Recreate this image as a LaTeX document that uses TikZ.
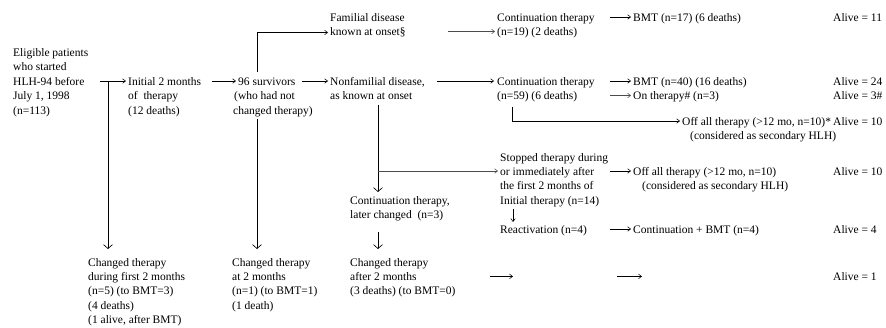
\documentclass[tikz,border=0pt]{standalone}
\usepackage{fontspec}
\setmainfont{Liberation Serif}
\usetikzlibrary{arrows.meta,calc}
\begin{document}
\begin{tikzpicture}[x=1pt,y=-1pt,
  t/.style={anchor=base west, inner sep=0pt, font=\fontsize{11.5}{14}\selectfont},
  arr/.style={-{Straight Barb[length=3pt,width=4.5pt]}, line width=0.55pt},
  garr/.style={arr, draw=black!70},
  varr/.style={-{Straight Barb[length=4pt,width=9pt]}, line width=0.65pt},
  ln/.style={line width=0.65pt}]
\useasboundingbox (0,0) rectangle (886,327);
% column 1
\node[t] (e1) at (13,56) {Eligible patients};
\node[t] (e2) at (13,70.5) {who started};
\node[t] (e3) at (13,85) {HLH-94 before};
\node[t] (e4) at (13,99.5) {July 1, 1998};
\node[t] (e5) at (13,114) {(n=113)};
% column 2
\node[t] (i1) at (128,85) {Initial 2 months};
\node[t] (i2) at (128,99.5) {of\ \ therapy};
\node[t] (i3) at (128,114) {(12 deaths)};
% column 3
\node[t] (s1) at (238,85) {96 survivors};
\node[t] (s2) at (234,99.5) {(who had not};
\node[t] (s3) at (233,114) {changed therapy)};
% column 4
\node[t] (f1) at (330,21) {Familial disease};
\node[t] (f2) at (330,35.5) {known at onset\S};
\node[t] (n1) at (330,85) {Nonfamilial disease,};
\node[t] (n2) at (330,99.5) {as known at onset};
\node[t] (ct1) at (350,204) {Continuation therapy,};
\node[t] (ct2) at (350,218.5) {later changed\ \ (n=3)};
% column 5
\node[t] (c1) at (497,21) {Continuation therapy};
\node[t] (c2) at (497,35.5) {(n=19) (2 deaths)};
\node[t] (d1) at (497,85) {Continuation therapy};
\node[t] (d2) at (497,99.5) {(n=59) (6 deaths)};
\node[t] (st1) at (500,161) {Stopped therapy during};
\node[t] (st2) at (500,175) {or immediately after};
\node[t] (st3) at (500,189.5) {the first 2 months of};
\node[t] (st4) at (500,204) {Initial therapy (n=14)};
\node[t] (re) at (500,233) {Reactivation (n=4)};
% column 6
\node[t] (b1) at (633,21) {BMT (n=17) (6 deaths)};
\node[t] (b2) at (633,85) {BMT (n=40) (16 deaths)};
\node[t] (b3) at (633,99.5) {On therapy\# (n=3)};
\node[t] (o1) at (682,125) {Off all therapy (>12 mo, n=10)*};
\node[t] (o1b) at (690,139.5) {(considered as secondary HLH)};
\node[t] (o2) at (633,175) {Off all therapy (>12 mo, n=10)};
\node[t] (o2b) at (642,189.5) {(considered as secondary HLH)};
\node[t] (cb) at (633,233) {Continuation + BMT (n=4)};
% alive column
\node[t] (a1) at (833,21) {Alive = 11};
\node[t] (a2) at (833,85) {Alive = 24};
\node[t] (a3) at (833,99.5) {Alive = 3\#};
\node[t] (a4) at (833,125) {Alive = 10};
\node[t] (a5) at (833,175) {Alive = 10};
\node[t] (a6) at (833,233) {Alive = 4};
\node[t] (a7) at (833,280.4) {Alive = 1};
% bottom row
\node[t] (g1) at (88,266) {Changed therapy};
\node[t] (g2) at (88,280.4) {during first 2 months};
\node[t] (g3) at (88,294.8) {(n=5) (to BMT=3)};
\node[t] (g4) at (88,309.2) {(4 deaths)};
\node[t] (g5) at (88,323.6) {(1 alive, after BMT)};
\node[t] (h1) at (232,266) {Changed therapy};
\node[t] (h2) at (232,280.4) {at 2 months};
\node[t] (h3) at (232,294.8) {(n=1) (to BMT=1)};
\node[t] (h4) at (232,309.2) {(1 death)};
\node[t] (k1) at (350,266) {Changed therapy};
\node[t] (k2) at (350,280.4) {after 2 months};
\node[t] (k3) at (350,294.8) {(3 deaths) (to BMT=0)};
% connectors
\draw[arr] ($(e3.base west)+(87,-4)$) -- ($(i1.base west)+(-2,-4)$);
\draw[varr] ($(e3.base west)+(95,-4)$) -- ($(g1.base west)+(20,-17)$);
\draw[arr] ($(i1.base west)+(84,-4)$) -- ($(s1.base west)+(-2,-4)$);
\draw[arr] ($(s1.base west)+(19,-13)$) |- ($(f2.base west)+(-2,-3)$);
\draw[varr] ($(s3.base west)+(24,5)$) -- ($(h1.base west)+(25,-17)$);
\draw[arr] ($(s1.base west)+(64,-4)$) -- ($(n1.base west)+(-2,-4)$);
\draw[garr] ($(f2.base west)+(118,-4)$) -- ($(c2.base west)+(-2,-4)$);
\draw[arr] ($(n1.base west)+(107,-4)$) -- ($(d1.base west)+(-3,-4)$);
\draw[arr] ($(c1.base west)+(113,-4)$) -- ($(b1.base west)+(-2,-4)$);
\draw[arr] ($(d1.base west)+(113,-4)$) -- ($(b2.base west)+(-2,-4)$);
\draw[garr] ($(d2.base west)+(113,-4)$) -- ($(b3.base west)+(-2,-4)$);
\draw[arr] ($(d2.base west)+(15,7)$) |- ($(o1.base west)+(-2,-4)$);
\draw[varr] ($(n2.base west)+(48,5)$) -- ($(ct1.base west)+(28,-12)$);
\draw[garr] ($(n2.base west)+(48,71.5)$) -- ($(st2.base west)+(-2,-4)$);
\draw[arr] ($(st2.base west)+(110,-4)$) -- ($(o2.base west)+(-2,-4)$);
\draw[varr] ($(ct2.base west)+(28,13)$) -- ($(k1.base west)+(28,-17)$);
\draw[arr] ($(st4.base west)+(13,5)$) -- ($(re.base west)+(13,-11)$);
\draw[arr] ($(re.base west)+(110,-4)$) -- ($(cb.base west)+(-2,-4)$);
\coordinate (q1) at ($(k2.base west)+(140,-4)$);
\coordinate (q2) at ($(k2.base west)+(267,-4)$);
\draw[arr] (q1) -- ++(23,0);
\draw[arr] (q2) -- ++(25,0);
\end{tikzpicture}
\end{document}
